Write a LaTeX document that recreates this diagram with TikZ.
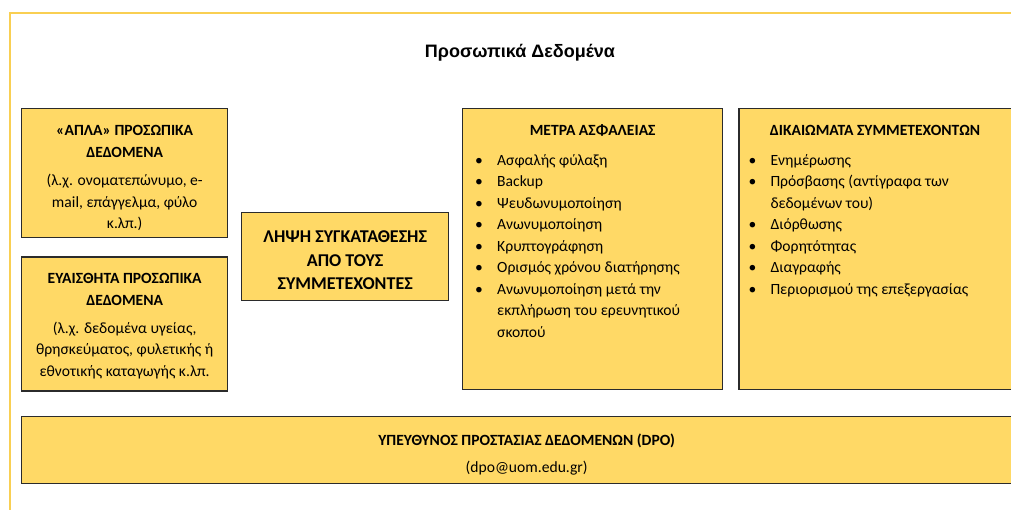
\documentclass[tikz,border=0pt]{standalone}
\usepackage{fontspec}
\setmainfont{Carlito}
\newfontfamily\titlefont{Liberation Sans}
\usetikzlibrary{positioning}
\definecolor{boxfill}{HTML}{FFD966}
\definecolor{boxline}{HTML}{2B2B2B}
\definecolor{frameline}{HTML}{F9CF52}
\newcommand{\bul}[1]{\strut\makebox[22pt][l]{\textbullet}#1}
\newcommand{\cont}[1]{\strut\hspace*{22pt}#1}
\tikzset{
	every node/.style={
		font=\fontsize{15.6}{21.5}\selectfont
	},
	databox/.style={
		shape=rectangle,
		fill=boxfill,
		draw=boxline,
		line width=1.3pt,
		inner sep=0pt
	},
	boxtext/.style={
		align=center,
		inner sep=0pt
	},
	headtext/.style={
		anchor=base,
		inner sep=0pt,
		font=\fontsize{15.6}{21.5}\selectfont\bfseries
	},
	listtext/.style={
		anchor=north west,
		align=left,
		inner sep=0pt
	},
	frame/.style={
		draw=frameline,
		line width=2pt
	}
}
\begin{document}
\begin{tikzpicture}[x=1pt,y=-1pt]
	\clip (0,0) rectangle (1011,510);
	\draw[frame] (10,520) -- (10,13) -- (1020,13);
	
	\node[font=\fontsize{18}{22}\titlefont\bfseries] (title) at (520,53) {Προσωπικά Δεδομένα};
	
	% left column
	\node[databox, minimum width=206pt, minimum height=129pt, anchor=north west] (simple) at (21,108) {};
	\node[boxtext] (simpletext) at ([yshift=-5pt]simple.center)
		{\textbf{«ΑΠΛΑ» ΠΡΟΣΩΠΙΚΑ}\\ \textbf{ΔΕΔΟΜΕΝΑ}\\[7pt] (λ.χ. ονοματεπώνυμο, e-\\ mail, επάγγελμα, φύλο\\ κ.λπ.)};
	\node[databox, minimum width=206pt, minimum height=134pt, below=18pt of simple] (sensitive) {};
	\node[boxtext] (sensitivetext) at ([yshift=-2pt]sensitive.center)
		{\textbf{ΕΥΑΙΣΘΗΤΑ ΠΡΟΣΩΠΙΚΑ}\\ \textbf{ΔΕΔΟΜΕΝΑ}\\[6.5pt] (λ.χ. δεδομένα υγείας,\\ θρησκεύματος, φυλετικής ή\\ εθνοτικής καταγωγής κ.λπ.};
	
	% consent
	\node[databox, minimum width=207pt, minimum height=88pt, anchor=north west] (consent) at (241,212) {};
	\node[boxtext, font=\fontsize{18}{23.5}\selectfont\bfseries] (consenttext) at ([yshift=-4pt]consent.center)
		{ΛΗΨΗ ΣΥΓΚΑΤΑΘΕΣΗΣ\\ ΑΠΟ ΤΟΥΣ\\ ΣΥΜΜΕΤΕΧΟΝΤΕΣ};
	
	% security measures
	\node[databox, minimum width=260pt, minimum height=281pt, anchor=north west] (security) at (462,108) {};
	\node[headtext] (securityhead) at ([yshift=-28pt]security.north) {ΜΕΤΡΑ ΑΣΦΑΛΕΙΑΣ};
	\node[listtext] (securitylist) at ([xshift=13pt, yshift=-42pt]security.north west)
		{\bul{Ασφαλής φύλαξη}\\
		\bul{Backup}\\
		\bul{Ψευδωνυμοποίηση}\\
		\bul{Ανωνυμοποίηση}\\
		\bul{Κρυπτογράφηση}\\
		\bul{Ορισμός χρόνου διατήρησης}\\
		\bul{Ανωνυμοποίηση μετά την}\\
		\cont{εκπλήρωση του ερευνητικού}\\
		\cont{σκοπού}};
	
	% rights
	\node[databox, minimum width=290pt, minimum height=281pt, right=15pt of security.north east, anchor=north west] (rights) {};
	\node[headtext] (rightshead) at ([xshift=875pt, yshift=-28pt]0,0 |- rights.north) {ΔΙΚΑΙΩΜΑΤΑ ΣΥΜΜΕΤΕΧΟΝΤΩΝ};
	\node[listtext] (rightslist) at ([xshift=10pt, yshift=-42pt]rights.north west)
		{\bul{Ενημέρωσης}\\
		\bul{Πρόσβασης (αντίγραφα των}\\
		\cont{δεδομένων του)}\\
		\bul{Διόρθωσης}\\
		\bul{Φορητότητας}\\
		\bul{Διαγραφής}\\
		\bul{Περιορισμού της επεξεργασίας}};
	
	% DPO
	\node[databox, minimum width=1010pt, minimum height=67pt, anchor=north west] (dpo) at (21,416) {};
	\node[boxtext] (dpotext) at ([yshift=-4.5pt]dpo.center)
		{\textbf{ΥΠΕΥΘΥΝΟΣ ΠΡΟΣΤΑΣΙΑΣ ΔΕΔΟΜΕΝΩΝ (DPO)}\\[5.5pt] (dpo@uom.edu.gr)};
\end{tikzpicture}
\end{document}
